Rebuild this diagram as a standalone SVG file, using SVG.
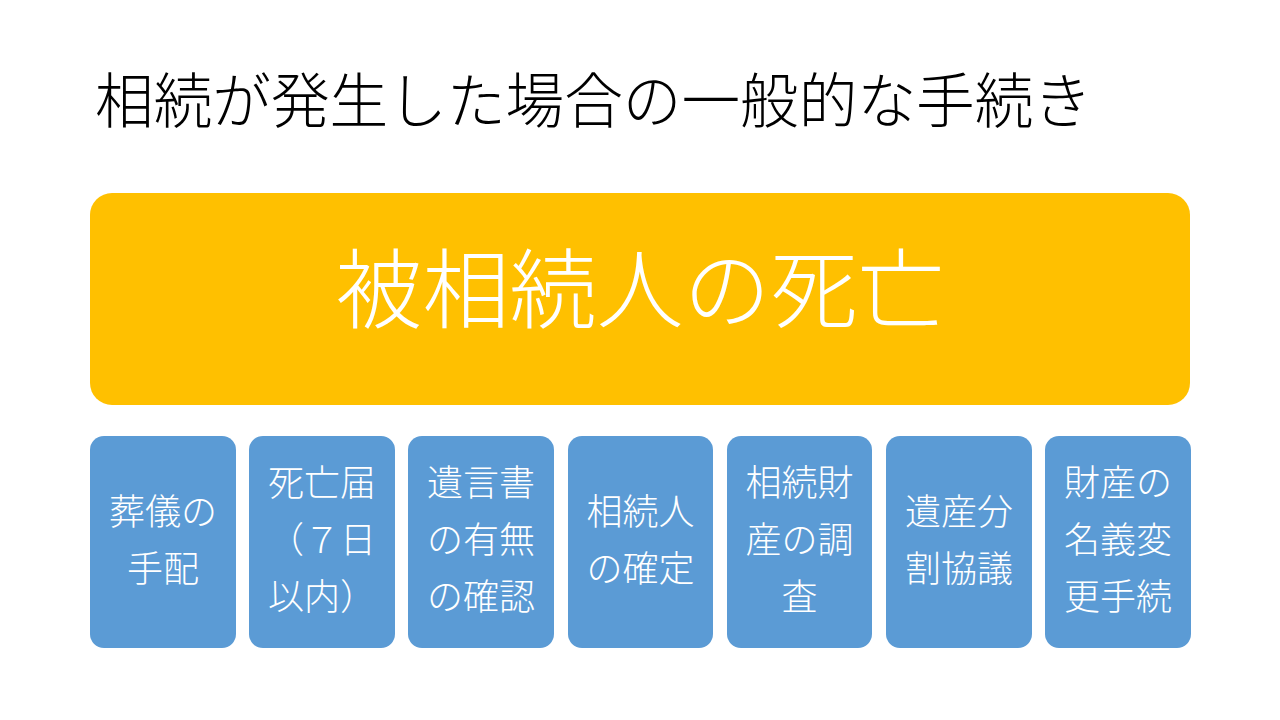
<svg xmlns="http://www.w3.org/2000/svg" width="1280" height="720" viewBox="0 0 1280 720">
<style>
text{font-family:"Noto Sans CJK JP","Noto Sans CJK SC",sans-serif;font-weight:300}
.title{font-size:60px;fill:#000}
.big{font-size:87px;fill:#fff;text-anchor:middle}
.step rect{fill:#5B9BD5}
.step text{font-size:36px;fill:#fff;text-anchor:middle}
</style>
<rect width="1280" height="720" fill="#fff"/>
<text class="title" x="95" y="123" textLength="997" lengthAdjust="spacingAndGlyphs">相続が発生した場合の一般的な手続き</text>
<g id="death">
<rect x="90" y="193" width="1100" height="212" rx="22" fill="#FFC000"/>
<text class="big" x="640" y="322">被相続人の死亡</text>
</g>
<g id="connectors"></g>
<g id="s1" class="step"><rect x="90" y="436" width="146" height="212" rx="14"/>
<text x="163" y="524.5">葬儀の</text><text x="163" y="581.5">手配</text></g>
<g id="s2" class="step"><rect x="249" y="436" width="146" height="212" rx="14"/>
<text x="322" y="496">死亡届</text><text x="322" y="553">（７日</text><text x="322" y="610">以内）</text></g>
<g id="s3" class="step"><rect x="408" y="436" width="146" height="212" rx="14"/>
<text x="481" y="496">遺言書</text><text x="481" y="553">の有無</text><text x="481" y="610">の確認</text></g>
<g id="s4" class="step"><rect x="568" y="436" width="145" height="212" rx="14"/>
<text x="640.5" y="524.5">相続人</text><text x="640.5" y="581.5">の確定</text></g>
<g id="s5" class="step"><rect x="727" y="436" width="145" height="212" rx="14"/>
<text x="799.5" y="496">相続財</text><text x="799.5" y="553">産の調</text><text x="799.5" y="610">査</text></g>
<g id="s6" class="step"><rect x="886" y="436" width="146" height="212" rx="14"/>
<text x="959" y="524.5">遺産分</text><text x="959" y="581.5">割協議</text></g>
<g id="s7" class="step"><rect x="1045" y="436" width="146" height="212" rx="14"/>
<text x="1118" y="496">財産の</text><text x="1118" y="553">名義変</text><text x="1118" y="610">更手続</text></g>
</svg>
